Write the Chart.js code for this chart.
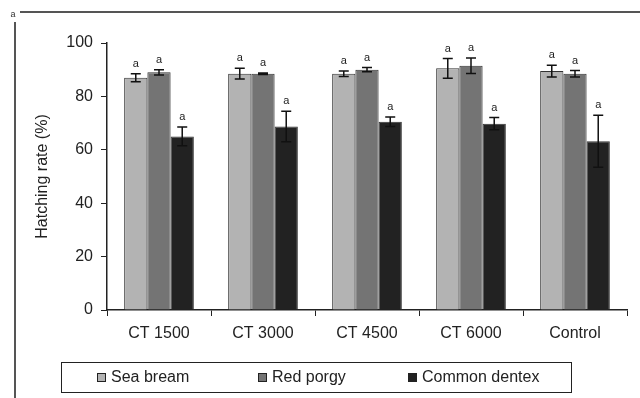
<!DOCTYPE html>
<html><head><meta charset="utf-8">
<script src="https://cdn.jsdelivr.net/npm/chart.js@4/dist/chart.umd.min.js"></script>
<style>html,body{margin:0;padding:0;background:#fff}#wrap{width:640px;height:398px;position:relative}</style>
</head><body><div id="wrap"><canvas id="c" width="640" height="398"></canvas></div>
<script>
const categories = ['CT 1500', 'CT 3000', 'CT 4500', 'CT 6000', 'Control'];
const seriesNames = ['Sea bream', 'Red porgy', 'Common dentex'];
const seaBream = [87, 88.5, 88.5, 90.5, 89.5];
const seaBreamErr = [1.5, 2, 1, 3.7, 2.2];
const redPorgy = [89, 88.5, 90, 91.5, 88.5];
const redPorgyErr = [1, 0.3, 0.8, 2.9, 1.2];
const dentex = [65, 68.7, 70.5, 69.8, 63.2];
const dentexErr = [3.5, 5.7, 1.8, 2.3, 9.7];
const letters = ['a', 'a', 'a', 'a', 'a'];
const yTicks = [0, 20, 40, 60, 80, 100];
const colors = ['#b3b3b3', '#747474', '#222222'];
const FONT = '"Liberation Sans", Arial, sans-serif';

const errs = [seaBreamErr, redPorgyErr, dentexErr];

const decor = {
  id: 'decor',
  beforeDraw(chart) {
    const ctx = chart.ctx;
    ctx.save();
    ctx.fillStyle = '#fff';
    ctx.fillRect(0, 0, chart.width, chart.height);
    ctx.strokeStyle = '#555';
    ctx.lineWidth = 2;
    ctx.beginPath();
    ctx.moveTo(20, 12); ctx.lineTo(640, 12);
    ctx.moveTo(15, 22); ctx.lineTo(15, 398);
    ctx.stroke();
    ctx.fillStyle = '#333';
    ctx.font = '9px ' + FONT;
    ctx.textAlign = 'center';
    ctx.textBaseline = 'middle';
    ctx.fillText('a', 13, 15);
    ctx.restore();
  },
  afterDatasetsDraw(chart) {
    const ctx = chart.ctx;
    const y = chart.scales.y;
    ctx.save();
    chart.data.datasets.forEach((ds, di) => {
      const meta = chart.getDatasetMeta(di);
      meta.data.forEach((bar, i) => {
        const v = ds.data[i], e = errs[di][i];
        const x = bar.x;
        const yt = y.getPixelForValue(v + e), yb = y.getPixelForValue(v - e);
        ctx.strokeStyle = '#111';
        ctx.lineWidth = 1.5;
        ctx.beginPath();
        ctx.moveTo(x, yt); ctx.lineTo(x, yb);
        ctx.moveTo(x - 5, yt); ctx.lineTo(x + 5, yt);
        ctx.moveTo(x - 5, yb); ctx.lineTo(x + 5, yb);
        ctx.stroke();
        ctx.fillStyle = '#222';
        ctx.font = '11px ' + FONT;
        ctx.textAlign = 'center';
        ctx.textBaseline = 'middle';
        ctx.fillText(letters[i], x, yt - 10);
      });
    });
    // legend
    ctx.strokeStyle = '#222';
    ctx.lineWidth = 1;
    ctx.strokeRect(61.5, 362.5, 510, 30);
    const lx = [97, 258, 408];
    ctx.font = '16px ' + FONT;
    ctx.textAlign = 'left';
    ctx.textBaseline = 'middle';
    seriesNames.forEach((n, k) => {
      ctx.fillStyle = colors[k];
      ctx.fillRect(lx[k], 373, 9, 9);
      ctx.strokeStyle = '#222';
      ctx.strokeRect(lx[k] + 0.5, 373.5, 8, 8);
      ctx.fillStyle = '#222';
      ctx.fillText(n, lx[k] + 14, 378);
    });
    ctx.restore();
  }
};

new Chart(document.getElementById('c'), {
  type: 'bar',
  data: {
    labels: categories,
    datasets: [
      { label: seriesNames[0], data: seaBream, backgroundColor: colors[0] },
      { label: seriesNames[1], data: redPorgy, backgroundColor: colors[1] },
      { label: seriesNames[2], data: dentex, backgroundColor: colors[2] }
    ].map(d => Object.assign(d, { borderColor: '#333', borderWidth: 1, categoryPercentage: 0.67, barPercentage: 1 }))
  },
  options: {
    responsive: false,
    animation: false,
    devicePixelRatio: 1,
    layout: { padding: { left: 0, right: 13, top: 43, bottom: 0 } },
    plugins: { legend: { display: false }, tooltip: { enabled: false } },
    scales: {
      x: {
        grid: { display: true, drawOnChartArea: false, offset: true, tickLength: 6, color: '#222', lineWidth: 1 },
        border: { color: '#222', width: 1.5 },
        ticks: { color: '#222', font: { family: FONT, size: 16 }, padding: 8, maxRotation: 0 },
        afterFit(s) { s.height = 88; }
      },
      y: {
        min: 0, max: 100,
        afterBuildTicks(s) { s.ticks = yTicks.map(v => ({ value: v })); },
        grid: { display: true, drawOnChartArea: false, tickLength: 6, color: '#222' },
        border: { color: '#222', width: 1.5 },
        ticks: { color: '#222', font: { family: FONT, size: 16 }, padding: 8 },
        title: { display: true, text: 'Hatching rate (%)', color: '#222', font: { family: FONT, size: 16 }, padding: { top: 33, bottom: 0 } },
        afterFit(s) { s.width = 107; }
      }
    }
  },
  plugins: [decor]
});
</script></body></html>
